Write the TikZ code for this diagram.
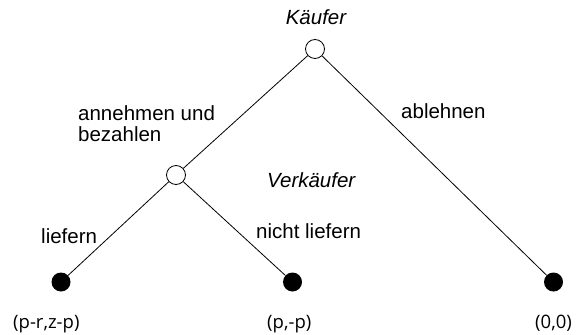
\documentclass[tikz,border=0pt]{standalone}
\usepackage{fontspec}
\setmainfont{Liberation Sans}
\newfontfamily\payofffont{Open Sans}
\usetikzlibrary{positioning}

\begin{document}
\begin{tikzpicture}[
      x=1pt, y=-1pt,
      decision/.style={draw, circle, fill=white, line width=0.8pt,
        minimum size=19pt, inner sep=0pt},
      outcome/.style={circle, fill=black, minimum size=19pt, inner sep=0pt},
      branch/.style={line width=0.8pt},
      label/.style={inner sep=0pt, font=\fontsize{20.5}{21}\selectfont},
      player/.style={label, font=\fontsize{20.5}{21}\selectfont\itshape},
      payoff/.style={inner sep=0pt, font=\payofffont\fontsize{18.5}{20}\selectfont}
    ]
      \useasboundingbox (0,0) rectangle (577,334);
      \node[decision] (buyer) at (315,49) {};
      \node[decision] (seller) at (176,175) {};
      \node[outcome] (deliver) at (61,282) {};
      \node[outcome] (nodeliver) at (292.5,282) {};
      \node[outcome] (reject) at (553.5,282) {};
      \draw[branch] (buyer) -- (seller);
      \draw[branch] (buyer) -- (reject);
      \draw[branch] (seller) -- (deliver);
      \draw[branch] (seller) -- (nodeliver);
      \node[player, anchor=base] (buyername) at (316,25) {Käufer};
      \node[player, anchor=base west] (sellername) at (267,187) {Verkäufer};
      \node[label, anchor=base west, align=left] (accept) at (78,141)
        {annehmen und\\bezahlen};
      \node[label, anchor=base west] (decline) at (401,118) {ablehnen};
      \node[label, anchor=base west] (send) at (41,243) {liefern};
      \node[label, anchor=base west] (nosend) at (256,238) {nicht liefern};
      \node[payoff, anchor=base west] (pay1) at (13,328) {(p-r,z-p)};
      \node[payoff, anchor=base west] (pay2) at (267,328) {(p,-p)};
      \node[payoff, anchor=base west] (pay3) at (535,328) {(0,0)};
    \end{tikzpicture}
\end{document}
